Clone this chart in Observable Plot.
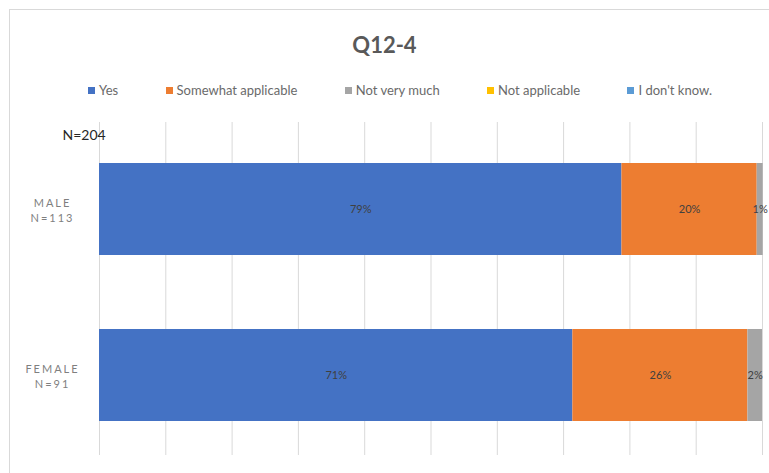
<!DOCTYPE html>
<html>
<head>
<meta charset="utf-8">
<script src="https://cdn.jsdelivr.net/npm/d3@7"></script>
<script src="https://cdn.jsdelivr.net/npm/@observablehq/plot@0.6"></script>
<style>
  html, body { margin: 0; padding: 0; background: #fff; }
  #chart { position: relative; width: 769px; height: 473px; overflow: hidden; font-family: Lato, "Open Sans", sans-serif; }
  .frame { position: absolute; left: 9px; top: 9px; width: 780px; height: 480px; border: 1px solid #d9d9d9; box-sizing: border-box; }
  .title { position: absolute; left: 0; top: 30px; width: 769px; text-align: center; font-size: 22px; font-weight: 700; color: #595959; line-height: 30px; }
  .legend { position: absolute; left: 88px; top: 81px; width: 624px; display: flex; justify-content: space-between; font-size: 13px; color: #6a6a6a; line-height: 18px; }
  .legend span.sw { display: inline-block; width: 7px; height: 7px; margin-right: 4px; vertical-align: 1px; }
  #plot { position: absolute; left: 0; top: 115px; }
  #plot g[aria-label="y-axis tick label"] text { letter-spacing: 2px; }
</style>
</head>
<body>
<div id="chart">
  <div class="frame"></div>
  <div class="title" id="title"></div>
  <div class="legend" id="legend"></div>
  <div id="plot"></div>
</div>
<script>
const titleText = "Q12-4";
const nLabel = "N=204";
const groups = ["MALE\nN=113", "FEMALE\nN=91"];
const categories = ["Yes", "Somewhat applicable", "Not very much", "Not applicable", "I don't know."];
const maleValues = [78.8, 20.4, 0.9, 0, 0];
const femaleValues = [71.4, 26.4, 2.2, 0, 0];
const colors = ["#4472C4", "#ED7D31", "#A5A5A5", "#FFC000", "#5B9BD5"];

const seriesByGroup = [maleValues, femaleValues];
const data = groups.flatMap((g, gi) =>
  categories.map((c, ci) => ({group: g, category: c, value: seriesByGroup[gi][ci]}))
);

document.getElementById("title").textContent = titleText;
const legend = document.getElementById("legend");
categories.forEach((c, i) => {
  const item = document.createElement("div");
  const sw = document.createElement("span");
  sw.className = "sw";
  sw.style.background = colors[i];
  item.appendChild(sw);
  item.appendChild(document.createTextNode(c));
  legend.appendChild(item);
});

const chart = Plot.plot({
  width: 769,
  height: 358,
  marginLeft: 99,
  marginRight: 7,
  marginTop: 7,
  marginBottom: 18,
  x: {domain: [0, 100], axis: null},
  y: {domain: groups, paddingInner: 0.446, paddingOuter: 0.226, align: 0.55, axis: null, label: null},
  color: {domain: categories, range: colors},
  style: {fontFamily: "Lato, 'Open Sans', sans-serif", background: "transparent", overflow: "visible"},
  marks: [
    Plot.ruleX(d3.range(0, 101, 10), {stroke: "#d9d9d9", strokeWidth: 1}),
    Plot.barX(data, Plot.stackX({x: "value", y: "group", fill: "category"})),
    Plot.textX(data.filter(d => d.value > 0), Plot.stackX({
      x: "value", y: "group", z: "category",
      text: d => Math.round(d.value) + "%",
      fill: "#404040", fontSize: 11
    })),
    Plot.axisY({tickSize: 0, textAnchor: "middle", dx: -38, fontSize: 11, fill: "#7f7f7f", lineHeight: 1.4, label: null}),
    Plot.text([nLabel], {frameAnchor: "top-left", text: d => d, textAnchor: "start", dx: -37, dy: 8, fontSize: 14, fill: "#262626"})
  ]
});
document.getElementById("plot").appendChild(chart);
</script>
</body>
</html>
